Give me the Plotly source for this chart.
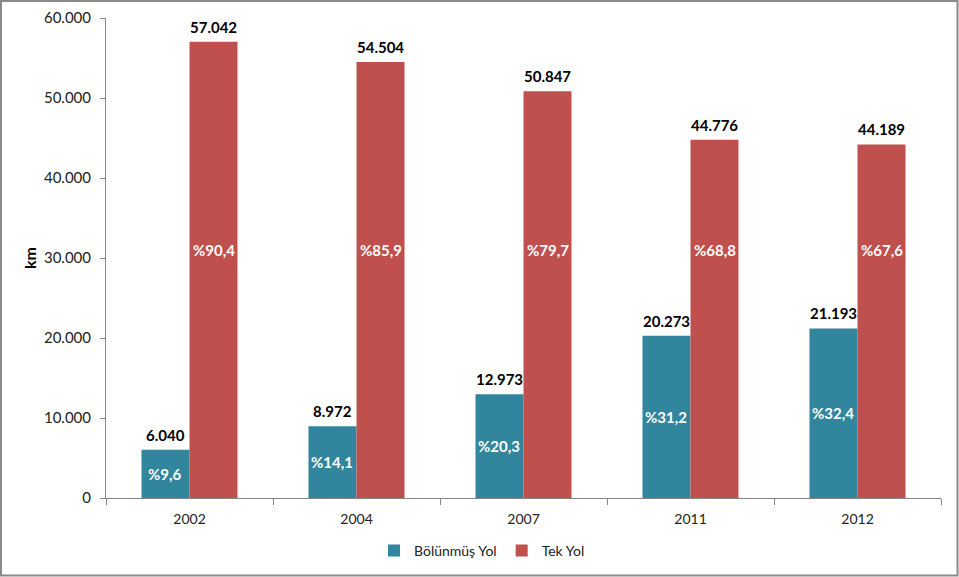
import plotly.graph_objects as go

years = ["2002", "2004", "2007", "2011", "2012"]
bolunmus = [6040, 8972, 12973, 20273, 21193]
tek = [57042, 54504, 50847, 44776, 44189]
bolunmus_pct = ["%9,6", "%14,1", "%20,3", "%31,2", "%32,4"]
tek_pct = ["%90,4", "%85,9", "%79,7", "%68,8", "%67,6"]
series_names = ["Bölünmüş Yol", "Tek Yol"]
y_ticks = [0, 10000, 20000, 30000, 40000, 50000, 60000]

W, H = 959, 577
ML, MR, MT, MB = 106, 18, 18, 79
PW, PH = W - ML - MR, H - MT - MB

FONT = "Lato"
TEAL = "#31859C"
RED = "#C0504D"
RED_LABEL_LEVEL = 31000


def fmt(v):
    return f"{v:,}".replace(",", ".")


fig = go.Figure()
for name, vals, color in [(series_names[0], bolunmus, TEAL), (series_names[1], tek, RED)]:
    fig.add_trace(go.Bar(
        name=name, x=years, y=vals,
        marker=dict(color=color, line=dict(width=0)),
        hoverinfo="skip",
    ))

cat_w = PW / len(years)
bargap = 0.425
bar_w = cat_w * (1 - bargap) / 2

val_font = dict(family=FONT, size=15, color="black", weight="bold")
pct_font = dict(family=FONT, size=15, color="white", weight="bold")
for i in range(len(years)):
    for vals, pcts, sh, ly in [(bolunmus, bolunmus_pct, -bar_w / 2, bolunmus[i] / 2),
                                (tek, tek_pct, bar_w / 2, RED_LABEL_LEVEL)]:
        fig.add_annotation(x=i, y=vals[i], text=fmt(vals[i]), showarrow=False,
                           xshift=sh, yanchor="bottom", yshift=4, font=val_font)
        fig.add_annotation(x=i, y=ly, text=pcts[i], showarrow=False,
                           xshift=sh, font=pct_font)

# outer border
fig.add_shape(type="rect", xref="paper", yref="paper",
              x0=-(ML - 1) / PW, x1=(PW + MR - 1.5) / PW,
              y0=-(MB - 1.5) / PH, y1=(PH + MT - 1) / PH,
              line=dict(color="#8A8A8A", width=2), fillcolor="rgba(0,0,0,0)", layer="below")

fig.update_layout(
    width=W, height=H,
    margin=dict(l=ML, r=MR, t=MT, b=MB, autoexpand=False),
    paper_bgcolor="white", plot_bgcolor="white",
    barmode="group", bargap=bargap, bargroupgap=0,
    separators=",.",
    font=dict(family=FONT, size=14, color="#222222"),
    showlegend=True,
    legend=dict(orientation="h", x=(482 - ML) / PW, xanchor="center", y=-0.11, yanchor="middle",
                font=dict(family=FONT, size=14, color="#222222"), itemwidth=30, traceorder="normal"),
    xaxis=dict(type="category", range=[-0.5, len(years) - 0.5], showline=True,
               linecolor="#868686", linewidth=1, automargin=False,
               ticks="outside", tickson="boundaries", ticklen=6, tickcolor="#868686",
               tickangle=0, ticklabelstandoff=8,
               tickfont=dict(family=FONT, size=14, color="#222222"), showgrid=False),
    yaxis=dict(range=[0, 60000], tickvals=y_ticks, tickformat=",d", showline=True,
               linecolor="#868686", linewidth=1, ticks="outside", ticklen=5, tickcolor="#868686",
               showgrid=False, zeroline=False, ticklabelstandoff=6, automargin=False,
               tickfont=dict(family=FONT, size=15, color="#222222"),
               title=dict(text="<b>km</b>", font=dict(family=FONT, size=16, color="black"), standoff=3)),
)

fig.write_html("out.html", config={"displayModeBar": False},
               post_script="document.body.style.margin='0';")
